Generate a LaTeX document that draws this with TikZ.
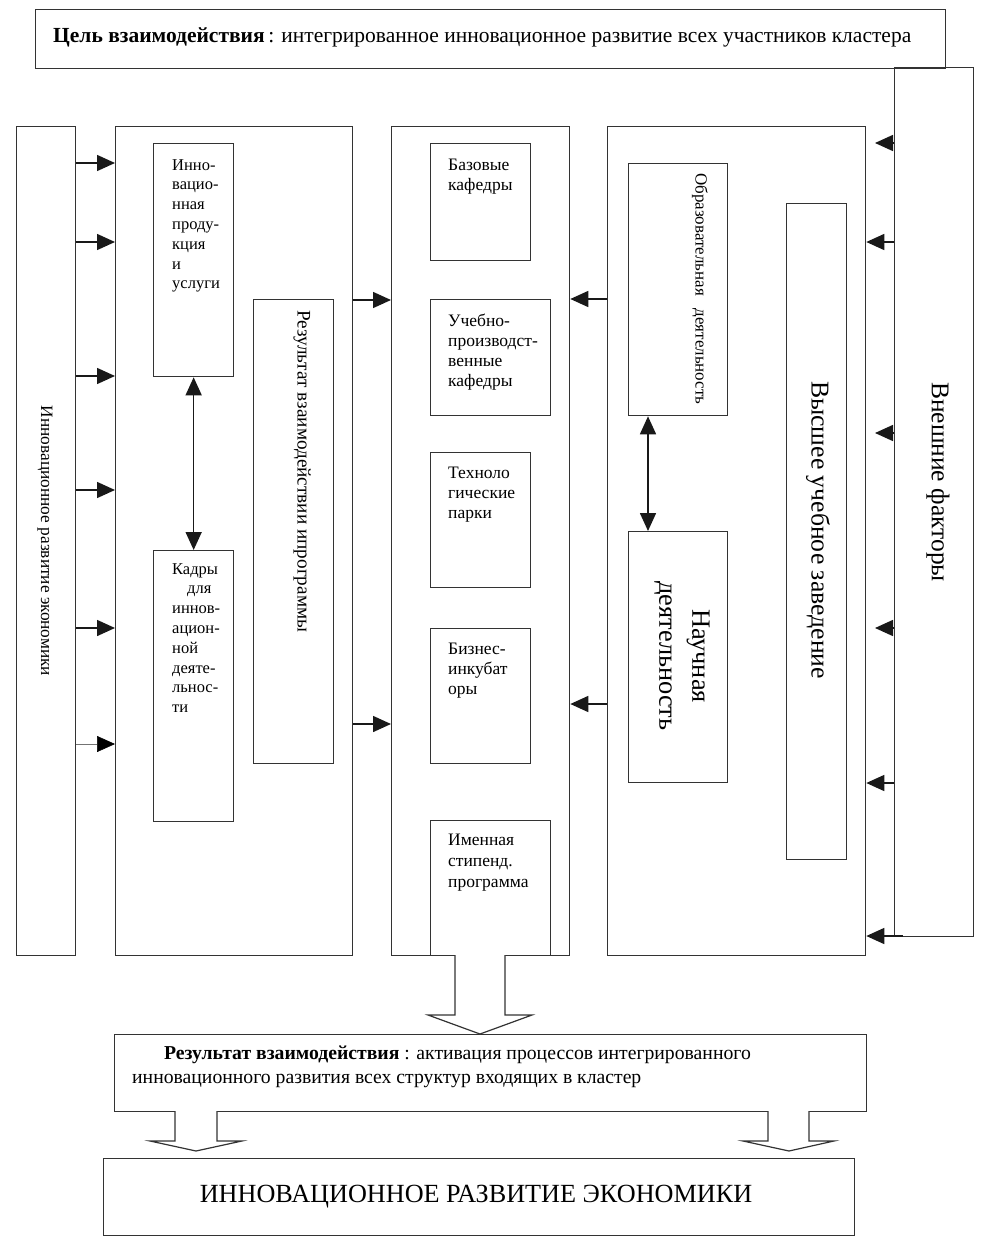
\documentclass[tikz,border=0pt]{standalone}
\usepackage{fontspec}
\setmainfont{Liberation Serif}
\usetikzlibrary{arrows.meta}
\begin{document}
\begin{tikzpicture}[x=1pt,y=-1pt,
  box/.style={draw=black!80, line width=1.3pt, inner sep=0pt, anchor=north west},
  arr/.style={draw=black!90, line width=1.5pt, -{Triangle[length=18pt,width=16pt]}},
  thinarr/.style={draw=black!55, line width=0.6pt, -{Triangle[length=18pt,width=16pt,color=black]}},
  darr/.style={draw=black!90, line width=1.6pt, {Triangle[length=18pt,width=16pt]}-{Triangle[length=18pt,width=16pt]}},
  blockarr/.style={draw=black!80, line width=1.2pt, fill=white},
  txt/.style={anchor=north west, inner sep=0pt, align=left, font=\fontsize{16.5}{19.8}\selectfont},
  txtb/.style={anchor=north west, inner sep=0pt, align=left, font=\fontsize{17.5}{20}\selectfont},
  rtxt/.style={inner sep=0pt, rotate=-90},
]
\useasboundingbox (0,0) rectangle (984,1250);
\fill[white] (0,0) rectangle (984,1250);

% boxes
\node[box, minimum width=910pt, minimum height=59pt] (head) at (35,9) {};
\node[box, minimum width=79pt, minimum height=869pt] (ext) at (894,67) {};
\node[box, minimum width=59pt, minimum height=829pt] (leftcol) at (16,126) {};
\node[box, minimum width=237pt, minimum height=829pt] (box2) at (115,126) {};
\node[box, minimum width=80pt, minimum height=233pt] (innov) at (153,143) {};
\node[box, minimum width=80pt, minimum height=271pt] (kadry) at (153,550) {};
\node[box, minimum width=80pt, minimum height=464pt] (resprog) at (253,299) {};
\node[box, minimum width=178pt, minimum height=829pt] (box3) at (391,126) {};
\node[box, minimum width=100pt, minimum height=117pt] (baz) at (430,143) {};
\node[box, minimum width=120pt, minimum height=116pt] (ucheb) at (430,299) {};
\node[box, minimum width=100pt, minimum height=135pt] (tech) at (430,452) {};
\node[box, minimum width=100pt, minimum height=135pt] (biz) at (430,628) {};
\node[box, minimum width=120pt, minimum height=135pt] (imen) at (430,820) {};
\node[box, minimum width=258pt, minimum height=829pt] (box4) at (607,126) {};
\node[box, minimum width=99pt, minimum height=252pt] (obr) at (628,163) {};
\node[box, minimum width=99pt, minimum height=251pt] (nauch) at (628,531) {};
\node[box, minimum width=60pt, minimum height=656pt] (vys) at (786,203) {};
\node[box, minimum width=752pt, minimum height=77pt] (res) at (114,1034) {};
\node[box, minimum width=751pt, minimum height=77pt] (final) at (103,1158) {};

% texts
\node[anchor=base west, inner sep=0pt, font=\fontsize{21.5}{25}\selectfont] (headtxt) at (53,42)
  {\textbf{Цель взаимодействия}\,: интегрированное инновационное развитие всех участников кластера};
\node[rtxt, font=\fontsize{17.3}{20}\selectfont] (lefttxt) at (45,541) {Инновационное развитие экономики};
\node[txt] (innovtxt) at (172,159) {Инно-\\вацио-\\нная\\проду-\\кция\\и\\услуги};
\node[txt] (kadrytxt) at (172,563) {Кадры\\\hspace*{15pt}для\\иннов-\\ацион-\\ной\\деяте-\\льнос-\\ти};
\node[rtxt, anchor=west, font=\fontsize{19.2}{22}\selectfont] (resprogtxt) at (302,310) {Результат взаимодействии ипрограммы};
\node[txtb] (baztxt) at (448,159) {Базовые\\кафедры};
\node[txtb] (uchebtxt) at (448,314) {Учебно-\\производст-\\венные\\кафедры};
\node[txtb] (techtxt) at (448,467) {Техноло\\гические\\парки};
\node[txtb] (biztxt) at (448,643) {Бизнес-\\инкубат\\оры};
\node[txtb, font=\fontsize{17.5}{21}\selectfont] (imentxt) at (448,834) {Именная\\стипенд.\\программа};
\node[rtxt, anchor=west, font=\fontsize{17}{20}\selectfont] (obrtxt) at (700,173) {Образовательная\hspace{0.5em} деятельность};
\node[rtxt, align=center, font=\fontsize{26.4}{33}\selectfont] (nauchtxt) at (682,656) {Научная\\деятельность};
\node[rtxt, font=\fontsize{25.7}{30}\selectfont] (vystxt) at (818,530) {Высшее учебное заведение};
\node[rtxt, font=\fontsize{25.5}{30}\selectfont] (exttxt) at (938,482) {Внешние факторы};
\node[txt, font=\fontsize{19.7}{24}\selectfont] (restxt) at (132,1046)
  {\hspace*{32pt}\textbf{Результат взаимодействия} : активация процессов интегрированного\\инновационного развития всех структур входящих в кластер};
\node[inner sep=0pt, font=\fontsize{26.2}{30}\selectfont] (finaltxt) at (476,1197) {ИННОВАЦИОННОЕ РАЗВИТИЕ ЭКОНОМИКИ};

% arrows left column -> box2
\foreach \yy in {163,242,376,490,628} {
  \draw[arr] (leftcol.east |- 0,\yy) -- (box2.west |- 0,\yy);
}
\draw[thinarr] (leftcol.east |- 0,744) -- (box2.west |- 0,744);
% box2 -> box3
\draw[arr] (box2.east |- 0,300) -- (box3.west |- 0,300);
\draw[arr] (box2.east |- 0,724) -- (box3.west |- 0,724);
% box4 -> box3
\draw[arr] (box4.west |- 0,299) -- (box3.east |- 0,299);
\draw[arr] (box4.west |- 0,704) -- (box3.east |- 0,704);
% ext -> box4
\draw[arr] (ext.west |- 0,242) -- (box4.east |- 0,242);
\draw[arr] (ext.west |- 0,783) -- (box4.east |- 0,783);
\coordinate (extbot) at (903,936);
\draw[arr] (extbot) -- (box4.east |- extbot);
\foreach \yy in {143,433,628} {
  \coordinate (sh\yy) at (875,\yy);
  \draw[arr] (ext.west |- 0,\yy) -- (sh\yy);
}
% double arrows
\draw[darr] (innov.south) -- (kadry.north);
\draw[darr] ([xshift=20pt]obr.south west) -- ([xshift=20pt]nauch.north west);

% block arrows
\draw[blockarr] (455,955) -- (455,1015) -- (428,1015) -- (480,1034) -- (532,1015) -- (505,1015) -- (505,955);
\draw[blockarr] (175,1111) -- (175,1141) -- (150,1141) -- (196,1151) -- (242,1141) -- (217,1141) -- (217,1111);
\draw[blockarr] (768,1111) -- (768,1141) -- (743,1141) -- (789,1151) -- (834,1141) -- (809,1141) -- (809,1111);
\end{tikzpicture}
\end{document}
